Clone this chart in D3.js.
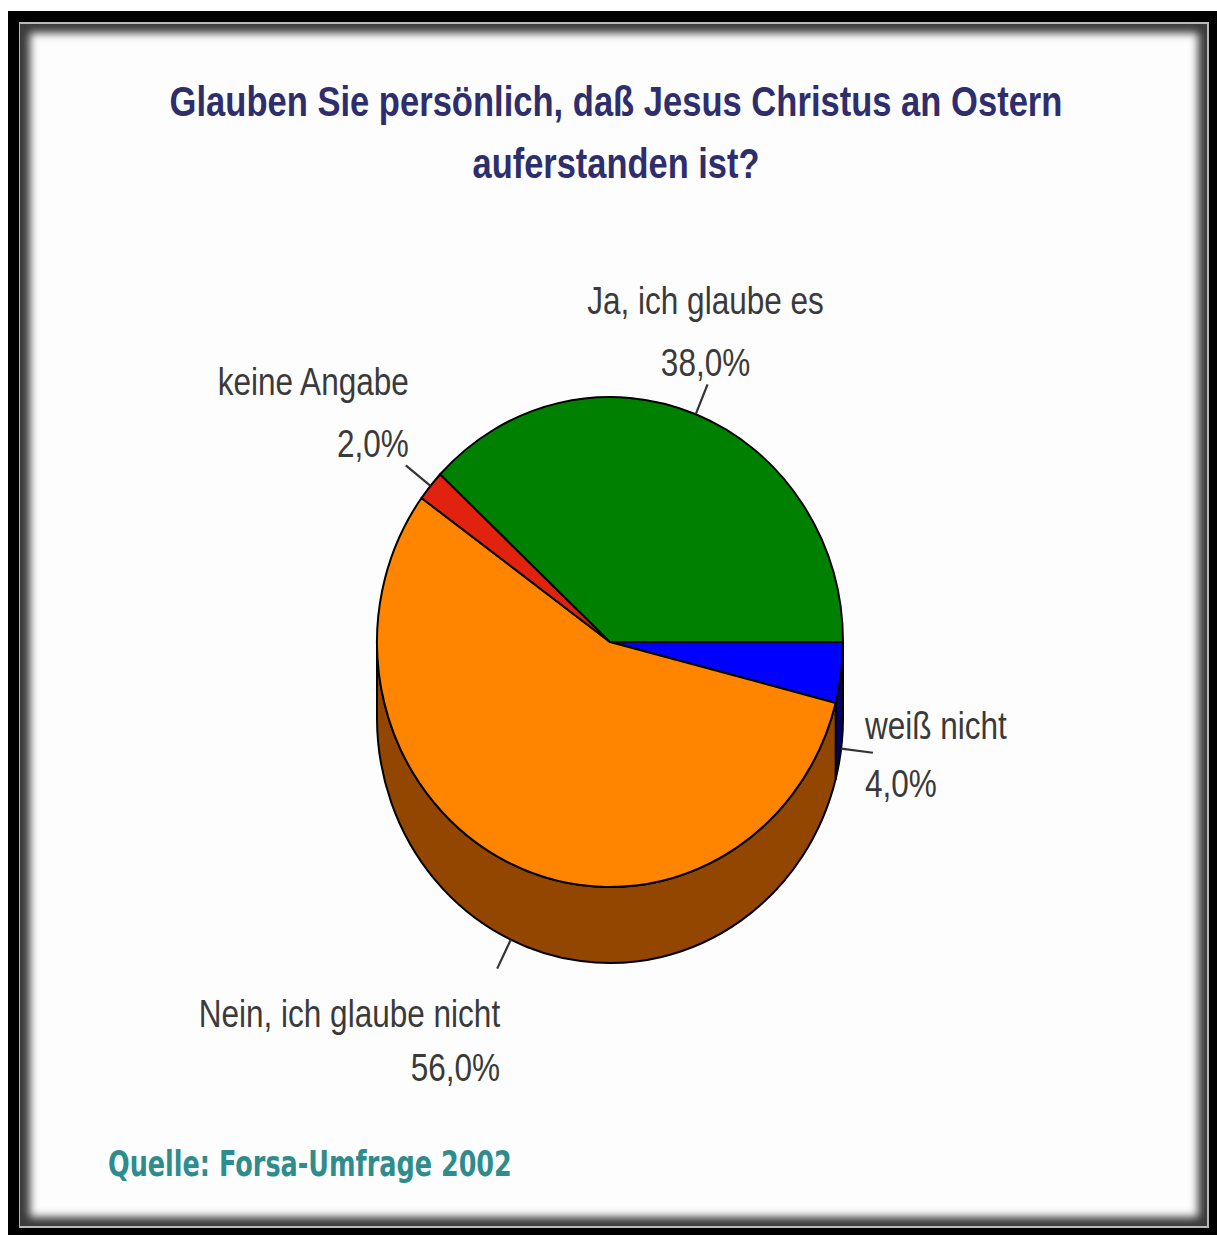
<!DOCTYPE html>
<html>
<head>
<meta charset="utf-8">
<script src="https://cdn.jsdelivr.net/npm/d3@7"></script>
<style>
  html, body { margin: 0; padding: 0; background: #fff; }
  svg { display: block; }
</style>
</head>
<body>
<div id="chart"></div>
<script>
// survey answers, in the order they are drawn clockwise from 3 o'clock
const categories = ["weiß nicht", "Nein, ich glaube nicht", "keine Angabe", "Ja, ich glaube es"];
const values = [4.0, 56.0, 2.0, 38.0];

const titleLines = ["Glauben Sie persönlich, daß Jesus Christus an Ostern", "auferstanden ist?"];
const sourceText = "Quelle: Forsa-Umfrage 2002";

const sliceColors = ["#0000ff", "#ff8400", "#e0220f", "#008000"];
const sideColors = ["#00006e", "#934600", "#7a1408", "#004000"];

const width = 1217, height = 1235;
const cx = 610, cy = 642, rx = 233, ry = 245, depth = 76;
const leaderLen = 32;
const narrow = 0.83;

const svg = d3.select("#chart").append("svg")
    .attr("width", width)
    .attr("height", height);

// squeeze a text horizontally around its anchor point
function squeeze(sel, factor) {
    sel.each(function() {
        const t = d3.select(this);
        const x = +t.attr("x"), y = +t.attr("y");
        t.attr("transform", `translate(${x},${y}) scale(${factor},1) translate(${-x},${-y})`);
    });
}

// frame
const defs = svg.append("defs");
const blur = defs.append("filter").attr("id", "soft")
    .attr("x", "-5%").attr("y", "-5%").attr("width", "110%").attr("height", "110%");
blur.append("feGaussianBlur").attr("stdDeviation", 4);

svg.append("rect").attr("x", 8).attr("y", 11).attr("width", width - 8).attr("height", height - 11)
    .attr("fill", "#000");
svg.append("rect").attr("x", 19).attr("y", 22).attr("width", 1190).attr("height", 1206)
    .attr("fill", "#b8b8b8");
svg.append("rect").attr("x", 20).attr("y", 24).attr("width", 1187).attr("height", 1202)
    .attr("fill", "#3a3a3a");
svg.append("rect").attr("x", 30).attr("y", 33).attr("width", 1168).attr("height", 1184)
    .attr("fill", "#fdfdfd")
    .attr("filter", "url(#soft)");

// title
const titleWidths = [893, 287];
svg.append("g").selectAll("text")
    .data(titleLines)
    .join("text")
    .attr("x", 616)
    .attr("y", (d, i) => 116 + i * 62)
    .attr("text-anchor", "middle")
    .style("font-family", "'Liberation Sans', Arial, sans-serif")
    .style("font-weight", "bold")
    .style("font-size", "43px")
    .style("fill", "#2e2e6c")
    .text(d => d)
    .each(function(d, i) {
        squeeze(d3.select(this), titleWidths[i] / this.getComputedTextLength());
    });

// source
svg.append("text")
    .attr("x", 108)
    .attr("y", 1176)
    .style("font-family", "'DejaVu Sans', sans-serif")
    .style("font-weight", "bold")
    .style("font-size", "35px")
    .style("fill", "#2f8c8c")
    .text(sourceText)
    .each(function() {
        squeeze(d3.select(this), 404 / this.getComputedTextLength());
    });

// pie
const pie = d3.pie()
    .sort(null)
    .startAngle(Math.PI / 2)
    .endAngle(Math.PI / 2 + 2 * Math.PI);

const arcs = pie(values).map((d, i) => ({
    ...d,
    name: categories[i],
    t0: d.startAngle - Math.PI / 2,
    t1: d.endAngle - Math.PI / 2
}));

const pt = (t, dy = 0) => [cx + rx * Math.cos(t), cy + ry * Math.sin(t) + dy];

function topPath(d) {
    const p0 = pt(d.t0), p1 = pt(d.t1);
    const large = d.t1 - d.t0 > Math.PI ? 1 : 0;
    return `M${cx},${cy}L${p0}A${rx},${ry} 0 ${large} 1 ${p1}Z`;
}

function sidePath(d) {
    const s0 = Math.max(d.t0, 0), s1 = Math.min(d.t1, Math.PI);
    if (s1 <= s0) return null;
    const a = pt(s0), b = pt(s1), c = pt(s1, depth), e = pt(s0, depth);
    return `M${a}A${rx},${ry} 0 0 1 ${b}L${c}A${rx},${ry} 0 0 0 ${e}Z`;
}

const pieG = svg.append("g");

pieG.selectAll("path.side")
    .data(arcs.filter(d => sidePath(d)))
    .join("path")
    .attr("class", "side")
    .attr("d", sidePath)
    .attr("fill", d => sideColors[d.index])
    .attr("stroke", "#000")
    .attr("stroke-width", 2)
    .attr("stroke-linejoin", "round");

pieG.selectAll("path.top")
    .data(arcs)
    .join("path")
    .attr("class", "top")
    .attr("d", topPath)
    .attr("fill", d => sliceColors[d.index])
    .attr("stroke", "#000")
    .attr("stroke-width", 2)
    .attr("stroke-linejoin", "round");

// labels
const fmt = d3.formatLocale({ decimal: ",", thousands: ".", grouping: [3], currency: ["", "€"] }).format(".1f");

arcs.forEach(d => {
    const m = (d.t0 + d.t1) / 2;
    const c = Math.cos(m), s = Math.sin(m);
    const start = pt(m, s > 0 ? depth : 0);
    const end = [start[0] + c * leaderLen, start[1] + s * leaderLen];
    d.start = start;
    d.end = end;
    d.anchor = Math.abs(c) < 0.4 ? "middle" : (c > 0 ? "start" : "end");
    d.tx = d.anchor === "middle" ? end[0] - 2 : (c > 0 ? end[0] - 8 : end[0] + 3);
    if (s < -0.5) d.ty = [end[1] - 70, end[1] - 8];
    else if (s > 0.5) d.ty = [end[1] + 58, end[1] + 112];
    else d.ty = [end[1] - 14, end[1] + 44];
});

const labelG = svg.append("g");

labelG.selectAll("line")
    .data(arcs)
    .join("line")
    .attr("x1", d => d.start[0])
    .attr("y1", d => d.start[1])
    .attr("x2", d => d.end[0])
    .attr("y2", d => d.end[1])
    .attr("stroke", "#333")
    .attr("stroke-width", 2.2);

const lines = [d => d.name, d => fmt(d.value) + "%"];

lines.forEach((txt, k) => {
    labelG.selectAll(`text.l${k}`)
        .data(arcs)
        .join("text")
        .attr("class", `l${k}`)
        .attr("x", d => d.tx)
        .attr("y", d => d.ty[k])
        .attr("text-anchor", d => d.anchor)
        .style("font-family", "'Liberation Sans', Arial, sans-serif")
        .style("font-size", "38px")
        .style("fill", "#3a3a3a")
        .text(txt)
        .call(squeeze, narrow);
});
</script>
</body>
</html>
